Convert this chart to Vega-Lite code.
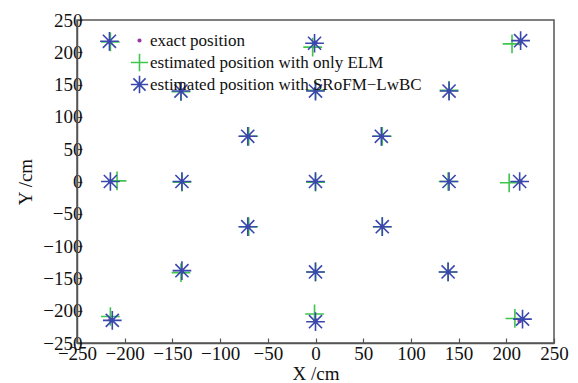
{
  "$schema": "https://vega.github.io/schema/vega-lite/v6.json",
  "autosize": "none",
  "padding": {"left": 77, "top": 20, "right": 24, "bottom": 40},
  "width": 477,
  "height": 323,
  "data": {
    "values": [
      {"series": "exact position", "x": -215, "y": 215},
      {"series": "exact position", "x": 0, "y": 215},
      {"series": "exact position", "x": 214, "y": 214},
      {"series": "exact position", "x": -140, "y": 140},
      {"series": "exact position", "x": 0, "y": 140},
      {"series": "exact position", "x": 140, "y": 140},
      {"series": "exact position", "x": -70, "y": 70},
      {"series": "exact position", "x": 70, "y": 70},
      {"series": "exact position", "x": -215, "y": 0},
      {"series": "exact position", "x": -140, "y": 0},
      {"series": "exact position", "x": 0, "y": 0},
      {"series": "exact position", "x": 140, "y": 0},
      {"series": "exact position", "x": 215, "y": 0},
      {"series": "exact position", "x": -70, "y": -70},
      {"series": "exact position", "x": 70, "y": -70},
      {"series": "exact position", "x": -140, "y": -140},
      {"series": "exact position", "x": 0, "y": -140},
      {"series": "exact position", "x": 140, "y": -140},
      {"series": "exact position", "x": -215, "y": -214},
      {"series": "exact position", "x": 0, "y": -215},
      {"series": "exact position", "x": 214, "y": -216},

      {"series": "estimated position with only ELM", "x": -215, "y": 216},
      {"series": "estimated position with only ELM", "x": -3, "y": 208},
      {"series": "estimated position with only ELM", "x": 206, "y": 213},
      {"series": "estimated position with only ELM", "x": -141, "y": 139},
      {"series": "estimated position with only ELM", "x": 0, "y": 141},
      {"series": "estimated position with only ELM", "x": 140, "y": 141},
      {"series": "estimated position with only ELM", "x": -70, "y": 70},
      {"series": "estimated position with only ELM", "x": 70, "y": 70},
      {"series": "estimated position with only ELM", "x": -208, "y": 1},
      {"series": "estimated position with only ELM", "x": -140, "y": -1},
      {"series": "estimated position with only ELM", "x": 0, "y": -1},
      {"series": "estimated position with only ELM", "x": 139, "y": 0},
      {"series": "estimated position with only ELM", "x": 203, "y": -2},
      {"series": "estimated position with only ELM", "x": -70, "y": -70},
      {"series": "estimated position with only ELM", "x": 70, "y": -70},
      {"series": "estimated position with only ELM", "x": -141, "y": -141},
      {"series": "estimated position with only ELM", "x": 0, "y": -140},
      {"series": "estimated position with only ELM", "x": 139, "y": -140},
      {"series": "estimated position with only ELM", "x": -215, "y": -209},
      {"series": "estimated position with only ELM", "x": -1, "y": -205},
      {"series": "estimated position with only ELM", "x": 209, "y": -212},

      {"series": "estimated position with SRoFM−LwBC", "x": -216, "y": 217},
      {"series": "estimated position with SRoFM−LwBC", "x": -1, "y": 214},
      {"series": "estimated position with SRoFM−LwBC", "x": 215, "y": 218},
      {"series": "estimated position with SRoFM−LwBC", "x": -141, "y": 140},
      {"series": "estimated position with SRoFM−LwBC", "x": 0, "y": 140},
      {"series": "estimated position with SRoFM−LwBC", "x": 140, "y": 140},
      {"series": "estimated position with SRoFM−LwBC", "x": -71, "y": 70},
      {"series": "estimated position with SRoFM−LwBC", "x": 69, "y": 70},
      {"series": "estimated position with SRoFM−LwBC", "x": -215, "y": 0},
      {"series": "estimated position with SRoFM−LwBC", "x": -140, "y": 0},
      {"series": "estimated position with SRoFM−LwBC", "x": 0, "y": 0},
      {"series": "estimated position with SRoFM−LwBC", "x": 140, "y": 0},
      {"series": "estimated position with SRoFM−LwBC", "x": 214, "y": 0},
      {"series": "estimated position with SRoFM−LwBC", "x": -71, "y": -70},
      {"series": "estimated position with SRoFM−LwBC", "x": 70, "y": -70},
      {"series": "estimated position with SRoFM−LwBC", "x": -140, "y": -138},
      {"series": "estimated position with SRoFM−LwBC", "x": 0, "y": -140},
      {"series": "estimated position with SRoFM−LwBC", "x": 139, "y": -140},
      {"series": "estimated position with SRoFM−LwBC", "x": -213, "y": -215},
      {"series": "estimated position with SRoFM−LwBC", "x": 0, "y": -217},
      {"series": "estimated position with SRoFM−LwBC", "x": 217, "y": -213}
    ]
  },
  "mark": {"type": "point", "filled": false, "strokeWidth": 1.6, "opacity": 1, "size": 350},
  "encoding": {
    "x": {
      "field": "x", "type": "quantitative",
      "scale": {"domain": [-250, 250], "nice": false, "zero": false},
      "axis": {
        "values": [-250, -200, -150, -100, -50, 0, 50, 100, 150, 200, 250],
        "title": "X /cm", "labelFlush": false,
        "labelExpr": "datum.value < 0 ? '\u2212' + format(-datum.value, 'd') : datum.label"
      }
    },
    "y": {
      "field": "y", "type": "quantitative",
      "scale": {"domain": [-250, 250], "nice": false, "zero": false},
      "axis": {
        "values": [-250, -200, -150, -100, -50, 0, 50, 100, 150, 200, 250],
        "title": "Y /cm", "labelFlush": false,
        "labelExpr": "datum.value < 0 ? '\u2212' + format(-datum.value, 'd') : datum.label"
      }
    },
    "shape": {
      "field": "series", "type": "nominal", "title": null,
      "legend": {"columns": 1, "rowPadding": -5, "gridAlign": "all", "orient": "none", "legendX": 53, "legendY": 11},
      "scale": {
        "domain": ["exact position", "estimated position with only ELM", "estimated position with SRoFM−LwBC"],
        "range": ["M-0.15,0A0.15,0.15,0,1,0,0.15,0A0.15,0.15,0,1,0,-0.15,0Z", "M-1,0L1,0M0,-1L0,1", "M-1,0L1,0M0,-1L0,1M-0.7,-0.7L0.7,0.7M-0.7,0.7L0.7,-0.7"]
      }
    },
    "stroke": {
      "field": "series", "type": "nominal", "title": null,
      "scale": {
        "domain": ["exact position", "estimated position with only ELM", "estimated position with SRoFM−LwBC"],
        "range": ["#9a35a3", "#3ec64c", "#3a47ad"]
      }
    },
    "fill": {
      "field": "series", "type": "nominal", "title": null,
      "scale": {
        "domain": ["exact position", "estimated position with only ELM", "estimated position with SRoFM−LwBC"],
        "range": ["#9a35a3", "transparent", "transparent"]
      }
    }
  },
  "config": {
    "view": {"stroke": "#555555", "strokeWidth": 1.5},
    "axis": {
      "grid": false,
      "domainColor": "#555555",
      "domainWidth": 1.5,
      "tickColor": "#555555",
      "tickWidth": 1.2,
      "tickSize": -5,
      "labelFont": "Liberation Serif",
      "labelFontSize": 19,
      "labelColor": "#111111",
      "titleFont": "Liberation Serif",
      "titleFontSize": 19,
      "titleFontWeight": "normal",
      "titleColor": "#111111"
    },
    "axisX": {"labelPadding": 6, "titlePadding": 1},
    "axisY": {"labelPadding": 0, "titlePadding": 7},
    "legend": {
      "orient": "none",
      "legendX": 53,
      "legendY": 11,
      "padding": 0,
      "symbolSize": 300,
      "labelFont": "Liberation Serif",
      "labelFontSize": 17,
      "labelColor": "#111111",
      "labelOffset": 1,
      "labelLimit": 400,
      "symbolStrokeWidth": 1.6
    }
  }
}
